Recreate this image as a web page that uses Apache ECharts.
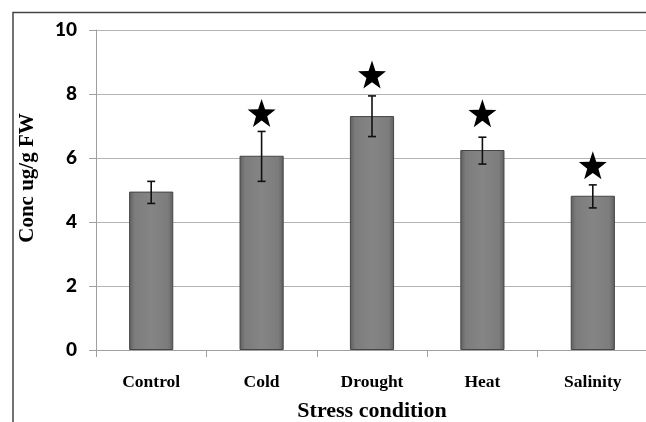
<!DOCTYPE html>
<html lang="en">
<head>
    <meta charset="UTF-8">
    <title>Conc ug/g FW</title>
    <style>
        html, body { margin: 0; padding: 0; background: #fff; }
        #main { width: 646px; height: 422px; }
    </style>
</head>
<body>
    <div id="main"></div>
<script type="text/javascript" src="https://cdn.jsdelivr.net/npm/echarts@6/dist/echarts.min.js"></script>
<script type="text/javascript">
    // data
    var categories = ['Control', 'Cold', 'Drought', 'Heat', 'Salinity'];
    var values = [4.95, 6.07, 7.31, 6.25, 4.82];
    var errLow = [4.58, 5.27, 6.67, 5.81, 4.44];
    var errHigh = [5.27, 6.83, 7.94, 6.65, 5.16];
    var starY = [null, 7.41, 8.61, 7.40, 5.77];   // star marks (significance)
    var yTicks = [0, 2, 4, 6, 8, 10];

    var starPath = 'path://M0,-10 L2.35,-3.24 L9.51,-3.09 L3.8,1.24 L5.88,8.09 L0,4 L-5.88,8.09 L-3.8,1.24 L-9.51,-3.09 L-2.35,-3.24 Z';

    var myChart = echarts.init(document.getElementById('main'));

    var errData = [];
    for (var i = 0; i < categories.length; i++) {
        errData.push([i, errLow[i], errHigh[i]]);
    }

    var option = {
        animation: false,
        backgroundColor: '#fff',
        graphic: [{
            type: 'rect',
            shape: { x: 13, y: 12.5, width: 700, height: 500 },
            style: { fill: 'none', stroke: '#444', lineWidth: 1.5 },
            silent: true
        }],
        grid: {
            left: 96, top: 30, right: -2, bottom: 72,
            outerBoundsMode: 'none'
        },
        xAxis: {
            type: 'category',
            data: categories,
            name: 'Stress condition',
            nameLocation: 'middle',
            nameGap: 50,
            nameTextStyle: {
                fontFamily: 'Liberation Serif', fontWeight: 'bold', fontSize: 22, color: '#000'
            },
            axisLine: { lineStyle: { color: '#a0a0a0', width: 1 } },
            axisTick: { show: true, length: 7, lineStyle: { color: '#a0a0a0' } },
            axisLabel: {
                margin: 23,
                fontFamily: 'Liberation Serif', fontWeight: 'bold', fontSize: 17.5, color: '#000'
            }
        },
        yAxis: {
            type: 'value',
            min: yTicks[0],
            max: yTicks[yTicks.length - 1],
            interval: 2,
            name: 'Conc ug/g FW',
            nameLocation: 'middle',
            nameGap: 58,
            nameTextStyle: {
                fontFamily: 'Liberation Serif', fontWeight: 'bold', fontSize: 21, color: '#000',
                padding: [0, 0, 0, 24]
            },
            axisLine: { show: true, lineStyle: { color: '#a0a0a0', width: 1 } },
            axisTick: { show: true, length: 7, lineStyle: { color: '#a0a0a0' } },
            axisLabel: {
                margin: 19,
                fontFamily: 'Lato', fontWeight: 900, fontSize: 19, color: '#000'
            },
            splitLine: { lineStyle: { color: '#b4b4b4', width: 1.2 } }
        },
        series: [
            {
                name: 'Conc',
                type: 'bar',
                data: values,
                barWidth: '40%',
                itemStyle: {
                    color: new echarts.graphic.LinearGradient(0, 0, 1, 0, [
                        { offset: 0, color: '#5e5e5e' },
                        { offset: 0.12, color: '#7c7c7c' },
                        { offset: 0.5, color: '#858585' },
                        { offset: 0.88, color: '#7c7c7c' },
                        { offset: 1, color: '#5e5e5e' }
                    ]),
                    borderColor: '#454545',
                    borderWidth: 1
                }
            },
            {
                name: 'error',
                type: 'custom',
                data: errData,
                z: 10,
                renderItem: function (params, api) {
                    var x = api.value(0);
                    var lo = api.coord([x, api.value(1)]);
                    var hi = api.coord([x, api.value(2)]);
                    var cap = 4;
                    var st = { stroke: '#111', lineWidth: 1.6 };
                    return {
                        type: 'group',
                        children: [
                            { type: 'line', shape: { x1: hi[0], y1: hi[1], x2: lo[0], y2: lo[1] }, style: st },
                            { type: 'line', shape: { x1: hi[0] - cap, y1: hi[1], x2: hi[0] + cap, y2: hi[1] }, style: st },
                            { type: 'line', shape: { x1: lo[0] - cap, y1: lo[1], x2: lo[0] + cap, y2: lo[1] }, style: st }
                        ]
                    };
                }
            },
            {
                name: 'significant',
                type: 'scatter',
                data: starY,
                symbol: starPath,
                symbolSize: [28, 28],
                itemStyle: { color: '#000', opacity: 1 },
                z: 11
            }
        ]
    };
    myChart.setOption(option);
</script>
</body>
</html>
